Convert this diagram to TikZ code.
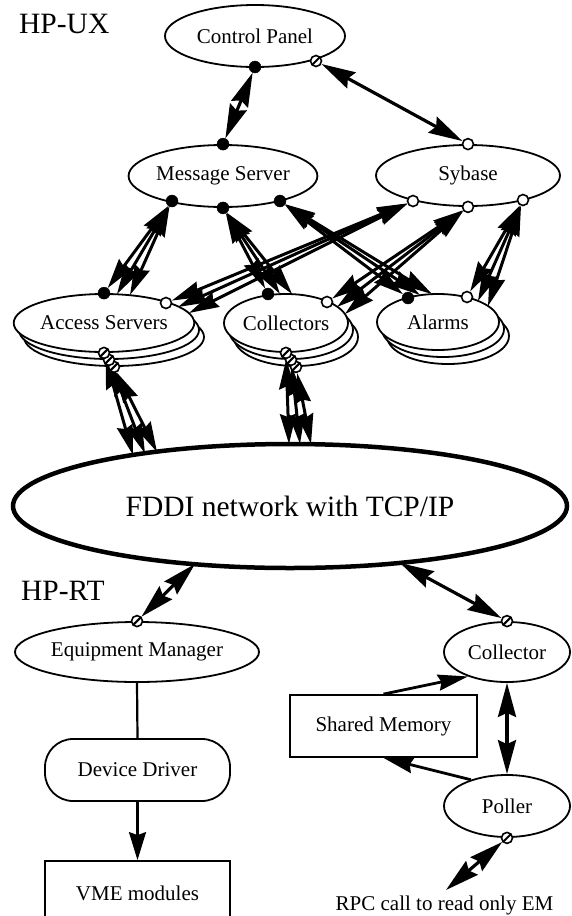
\documentclass[tikz,border=0pt]{standalone}
\usepackage{fontspec}
\setmainfont{Liberation Serif}
\usetikzlibrary{shapes.geometric,arrows.meta}
\pgfdeclarelayer{fg}
\pgfsetlayers{main,fg}
\begin{document}
\begin{tikzpicture}[x=1pt,y=-1pt,
  bigtip/.tip={Stealth[length=34pt,width=18pt,inset=4pt]},
  midtip/.tip={Stealth[length=30pt,width=16pt,inset=3pt]},
  smalltip/.tip={Stealth[length=28pt,width=17pt,inset=3pt]},
  lbl/.style={font=\fontsize{21}{24}\selectfont},
  biglbl/.style={font=\fontsize{29.5}{32}\selectfont, inner sep=0pt},
  ell/.style={ellipse, draw, line width=1.8pt, fill=white, inner sep=0pt, lbl},
  boxnode/.style={rectangle, draw, line width=1.8pt, fill=white, inner sep=0pt, lbl},
  darkdot/.style={circle, fill=black, draw=black, inner sep=0pt, minimum size=12pt},
  opendot/.style={circle, fill=white, draw=black, line width=1.6pt, inner sep=0pt, minimum size=11pt},
  hatchdot/.style={circle, fill=white, draw=black, line width=1.6pt, inner sep=0pt, minimum size=11pt,
     path picture={\draw[line width=2pt] (path picture bounding box.south west) -- (path picture bounding box.north east);}},
  dbl/.style={line width=3.2pt, bigtip-bigtip},
  tri/.style={line width=3pt, midtip-midtip},
  sarr/.style={line width=2.8pt, -midtip},
  varr/.style={line width=2.2pt, -smalltip},
  plain/.style={line width=2.2pt}
]
\fill[white] (0,0) rectangle (572,916);
\useasboundingbox (0,0) rectangle (572,916);

% labels
\node[biglbl, anchor=base west] (hpux) at (19,33) {HP-UX};
\node[biglbl, anchor=base west] (hprt) at (21,600) {HP-RT};

% HP-UX nodes
\node[ell, minimum width=180pt, minimum height=62pt] (cp) at (255,36) {Control Panel};
\node[ell, minimum width=180pt, minimum height=62pt] (ms) at (223,176) {Message Server};
\node[ell, minimum width=184pt, minimum height=61pt] (syb) at (468,175.5) {Sybase};

\node[ell, minimum width=180pt, minimum height=58pt] (as3) at (114,337) {};
\node[ell, minimum width=180pt, minimum height=58pt] (as2) at (109,330) {};
\node[ell, minimum width=180pt, minimum height=58pt] (as) at (104,323) {Access Servers};

\node[ell, minimum width=124pt, minimum height=58pt] (col3) at (296,337) {};
\node[ell, minimum width=124pt, minimum height=58pt] (col2) at (291,330) {};
\node[ell, minimum width=124pt, minimum height=58pt] (col) at (286,323) {Collectors};

\node[ell, minimum width=122pt, minimum height=56pt] (alm3) at (448,336) {};
\node[ell, minimum width=122pt, minimum height=56pt] (alm2) at (443,329) {};
\node[ell, minimum width=122pt, minimum height=56pt] (alm) at (438,322) {Alarms};

\node[ellipse, draw, line width=4.5pt, fill=white, inner sep=0pt, minimum width=554pt, minimum height=124pt,
      font=\fontsize{29.5}{32}\selectfont] (fddi) at (290,506) {FDDI network with TCP/IP};

% HP-RT nodes
\node[ell, minimum width=244pt, minimum height=60pt] (em) at (137,652) {Equipment Manager};
\node[boxnode, rounded corners=28pt, minimum width=185pt, minimum height=62pt] (dd) at (137.5,770) {Device Driver};
\node[boxnode, minimum width=185pt, minimum height=64pt] (vme) at (137.5,893) {VME modules};
\node[ell, minimum width=126pt, minimum height=60pt] (coll) at (507,652) {Collector};
\node[ell, minimum width=126pt, minimum height=62pt] (poll) at (507,806) {Poller};
\node[boxnode, minimum width=187pt, minimum height=62pt] (shm) at (383.5,726) {Shared Memory};
\node[lbl, anchor=base, inner sep=0pt] (rpc) at (444.5,910) {RPC call to read only EM};

% ports
\begin{pgfonlayer}{fg}
\node[darkdot] (cpd) at (255,67) {};
\node[hatchdot] (cph) at (316,61) {};
\node[darkdot] (mst) at (ms.north) {};
\node[darkdot] (msd1) at (172,201) {};
\node[darkdot] (msd2) at (ms.south) {};
\node[darkdot] (msd3) at (280,201) {};
\node[opendot] (syt) at (syb.north) {};
\node[opendot] (syo1) at (413,201) {};
\node[opendot] (syo2) at (syb.south) {};
\node[opendot] (syo3) at (523,200) {};
\node[darkdot] (asd) at (as.north) {};
\node[opendot] (aso) at (166,303) {};
\node[hatchdot] (ash3) at (as3.south) {};
\node[hatchdot] (ash2) at (as2.south) {};
\node[hatchdot] (ash1) at (as.south) {};
\node[darkdot] (cold) at (268,294) {};
\node[opendot] (colo) at (327,302) {};
\node[hatchdot] (colh3) at (col3.south) {};
\node[hatchdot] (colh2) at (col2.south) {};
\node[hatchdot] (colh1) at (col.south) {};
\node[darkdot] (almd) at (408,298) {};
\node[opendot] (almo) at (467,297) {};
\node[hatchdot] (emh) at (em.north) {};
\node[hatchdot] (collh) at (coll.north) {};
\node[hatchdot] (pollh) at (poll.south) {};
\end{pgfonlayer}

% spread end points
\coordinate (a2) at (117,294);
\coordinate (a3) at (130,295);
\coordinate (c2) at (280,294);
\coordinate (c3) at (292,294);
\coordinate (l2) at (420,295);
\coordinate (l3) at (432,294);
\coordinate (ao2) at (178,307);
\coordinate (ao3) at (189,313);
\coordinate (co2) at (337,307);
\coordinate (co3) at (345,314);
\coordinate (lo2) at (478,301);
\coordinate (lo3) at (488,306);
\coordinate (f1) at (133,455);
\coordinate (f2) at (145,453.5);
\coordinate (f3) at (157,452);
\coordinate (g1) at (289,444);
\coordinate (g2) at (300,444);
\coordinate (g3) at (311,444);
\coordinate (fe) at (195,564);
\coordinate (fc) at (400,563);
\coordinate (rpcend) at (446,890);

% connectors HP-UX
\draw[dbl] (cpd) -- (mst);
\draw[dbl] (cph) -- (syt);

\draw[tri] (msd1) -- (asd);
\draw[tri] (msd1) -- (a2);
\draw[tri] (msd1) -- (a3);
\draw[tri] (msd2) -- (cold);
\draw[tri] (msd2) -- (c2);
\draw[tri] (msd2) -- (c3);
\draw[tri] (msd3) -- (almd);
\draw[tri] (msd3) -- (l2);
\draw[tri] (msd3) -- (l3);

\draw[tri] (syo1) -- (aso);
\draw[tri] (syo1) -- (ao2);
\draw[tri] (syo1) -- (ao3);
\draw[tri] (syo2) -- (colo);
\draw[tri] (syo2) -- (co2);
\draw[tri] (syo2) -- (co3);
\draw[tri] (syo3) -- (almo);
\draw[tri] (syo3) -- (lo2);
\draw[tri] (syo3) -- (lo3);

\draw[tri] (ash1) -- (f1);
\draw[tri] (ash2) -- (f2);
\draw[tri] (ash3) -- (f3);
\draw[tri] (colh1) -- (g1);
\draw[tri] (colh2) -- (g2);
\draw[tri] (colh3) -- (g3);

% connectors HP-RT
\draw[dbl] (emh) -- (fe);
\draw[dbl] (fc) -- (collh);
\draw[plain] (em.south) -- (dd.north);
\draw[varr] (dd.south) -- (vme.north);
\draw[dbl] (coll.south) -- (poll.north);
\draw[sarr] (shm.north) -- (coll.212);
\draw[sarr] (poll.144) -- (shm.south);
\draw[dbl] (pollh) -- (rpcend);
\end{tikzpicture}
\end{document}
